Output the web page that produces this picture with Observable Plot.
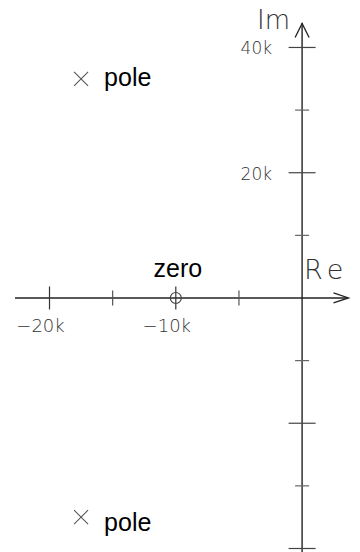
<!DOCTYPE html>
<html>
<head>
<meta charset="utf-8">
<script src="https://cdn.jsdelivr.net/npm/d3@7"></script>
<script src="https://cdn.jsdelivr.net/npm/@observablehq/plot@0.6"></script>
<style>
  html, body { margin: 0; padding: 0; background: #fff; }
  #chart { width: 360px; height: 552px; }
</style>
</head>
<body>
<div id="chart"></div>
<script>
// ---- data ----
const xMajor = [-20000, -10000];
const xMinor = [-15000, -5000];
const xTickLabels = ["−20k", "−10k"];
const yMajor = [40000, 20000, -20000, -40000];
const yMinor = [30000, 10000, -10000, -30000];
const yLabelValues = [40000, 20000];
const yTickLabels = ["40k", "20k"];
const poleRe = [-17500, -17500];
const poleIm = [35000, -35000];
const poleLabels = ["pole", "pole"];
const zeroRe = [-10000];
const zeroIm = [0];
const zeroLabels = ["zero"];
const axisNames = ["Re", "Im"];

// ---- tables built from the arrays ----
const poles = poleRe.map((re, i) => ({re, im: poleIm[i], label: poleLabels[i]}));
const zeros = zeroRe.map((re, i) => ({re, im: zeroIm[i], label: zeroLabels[i]}));
const xLab = xMajor.map((v, i) => ({v, t: xTickLabels[i]}));
const yLab = yLabelValues.map((v, i) => ({v, t: yTickLabels[i]}));

// ---- custom symbols (half-length = r) ----
const half = s => Math.sqrt(s / Math.PI);
const hLine = {draw(c, s) { const h = half(s); c.moveTo(-h, 0); c.lineTo(h, 0); }};
const vLine = {draw(c, s) { const h = half(s); c.moveTo(0, -h); c.lineTo(0, h); }};
const cross = {draw(c, s) { const h = half(s); c.moveTo(-h, -h); c.lineTo(h, h); c.moveTo(h, -h); c.lineTo(-h, h); }};
const upArrow = {draw(c, s) { const h = half(s); c.moveTo(-h * 0.5, h); c.lineTo(0, 0); c.lineTo(h * 0.5, h); }};
const rightArrow = {draw(c, s) { const h = half(s); c.moveTo(-h, -h / 3); c.lineTo(0, 0); c.lineTo(-h, h / 3); }};

const axisColor = "#222";
const labelFont = "DejaVu Sans";

const chart = Plot.plot({
  width: 360,
  height: 552,
  margin: 0,
  style: {background: "#fff", fontFamily: labelFont},
  x: {domain: [-23880, 4624], axis: null},
  y: {domain: [-40640, 47500], axis: null},
  marks: [
    // axes lines
    Plot.ruleY([0], {stroke: axisColor, strokeWidth: 1.4, insetLeft: 15, insetRight: 12}),
    Plot.ruleX([0], {stroke: axisColor, strokeWidth: 1.4, insetTop: 23}),
    // arrows
    Plot.dot([0], {x: 0, frameAnchor: "top", dy: 23, r: 14, symbol: upArrow, stroke: axisColor, fill: "none", strokeWidth: 1.3}),
    Plot.dot([0], {y: 0, frameAnchor: "right", dx: -12, r: 15, symbol: rightArrow, stroke: axisColor, fill: "none", strokeWidth: 1.3}),
    // x ticks
    Plot.dot(xMajor, {x: d => d, y: 0, r: 11.5, symbol: vLine, stroke: "#333", fill: "none", strokeWidth: 1.2}),
    Plot.dot(xMinor, {x: d => d, y: 0, r: 7.5, symbol: vLine, stroke: "#555", fill: "none", strokeWidth: 1.2}),
    // y ticks
    Plot.dot(yMajor, {x: 0, y: d => d, r: 13.5, symbol: hLine, stroke: "#444", fill: "none", strokeWidth: 1.2}),
    Plot.dot(yMinor, {x: 0, y: d => d, r: 7, symbol: hLine, stroke: "#666", fill: "none", strokeWidth: 1.2}),
    // tick labels
    Plot.text(xLab, {x: "v", y: 0, text: "t", dx: -9, dy: 28, fontSize: 18, fill: "#333", fontFamily: labelFont, fontWeight: 200}),
    Plot.text(yLab, {x: 0, y: "v", text: "t", textAnchor: "end", dx: -30, dy: 1.5, fontSize: 17, fill: "#333", fontFamily: labelFont, fontWeight: 200}),
    // axis names
    Plot.text([axisNames[0]], {x: 0, y: 0, text: d => d, textAnchor: "start", dx: 2, dy: -28, fontSize: 27, fill: "#333", fontFamily: labelFont, fontWeight: 200, stroke: "#fff", strokeWidth: 0}),
    Plot.text([axisNames[1]], {x: 0, frameAnchor: "top", lineAnchor: "middle", text: d => d, textAnchor: "end", dx: -12, dy: 20, fontSize: 26, fill: "#333", fontFamily: labelFont, fontWeight: 200}),
    // zeros
    Plot.dot(zeros, {x: "re", y: "im", r: 5.5, stroke: "#444", fill: "none", strokeWidth: 1.2}),
    Plot.text(zeros, {x: "re", y: "im", text: "label", dx: 2, dy: -29, fontSize: 25, fill: "#000", fontFamily: "Liberation Sans"}),
    // poles
    Plot.dot(poles, {x: "re", y: "im", r: 7, symbol: cross, stroke: "#555", fill: "none", strokeWidth: 1.1}),
    Plot.text(poles, {filter: d => d.im > 0, x: "re", y: "im", text: "label", textAnchor: "start", dx: 23, dy: -1, fontSize: 25, fill: "#000", fontFamily: "Liberation Sans"}),
    Plot.text(poles, {filter: d => d.im < 0, x: "re", y: "im", text: "label", textAnchor: "start", dx: 23, dy: 6, fontSize: 25, fill: "#000", fontFamily: "Liberation Sans"})
  ]
});
// wider letter spacing for the "Re" axis name, as in the reference
d3.select(chart).selectAll("text").filter(function () { return this.textContent === axisNames[0]; })
  .attr("letter-spacing", 5);
document.getElementById("chart").appendChild(chart);
</script>
</body>
</html>
